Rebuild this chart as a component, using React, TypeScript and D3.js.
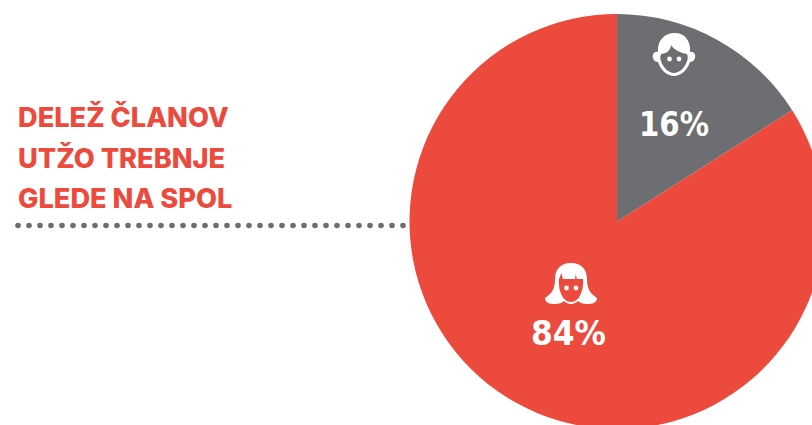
import * as d3 from 'd3';

const genders = ['Moški', 'Ženske'];
const shares = [16, 84];
const sliceColors = ['#6d6e71', '#ec4a3c'];
const titleLines = ['DELEŽ ČLANOV', 'UTŽO TREBNJE', 'GLEDE NA SPOL'];

const WIDTH = 812;
const HEIGHT = 425;
const CX = 617;
const CY = 221.5;
const RADIUS = 207.5;
const RED = '#ec4a3c';
const GREY = '#6d6e71';

const pie = d3.pie<number>().value((d) => d).sort(null);
const arc = d3.arc<d3.PieArcDatum<number>>().innerRadius(0).outerRadius(RADIUS);
const dotX = d3.range(18, 406, 11);

// Drawn around (0,0), face cut-outs use the slice colour
function BoyIcon({ x, y }: { x: number; y: number }) {
  return (
    <g transform={`translate(${x},${y})`}>
      <path
        d="M-16,-2 C-17,-14 -9,-21 1,-21 C11,-21 17,-13 16,-2 C20,-3 22,1 21,4 C20,7 18,8 16,8 C13,17 6,22 0,22 C-6,22 -13,17 -16,8 C-18,8 -20,7 -21,4 C-22,1 -20,-3 -16,-2 Z"
        fill="#fff"
      />
      <path
        d="M-13,0 C-8,0 -3,-4 -3,-9 C0,-4 7,-1 13,0 C14,3 14,5 13,7 C11,14 5,19 0,19 C-5,19 -11,14 -13,7 C-14,5 -14,3 -13,0 Z"
        fill={GREY}
      />
      <circle cx={-4.5} cy={5} r={2.4} fill="#fff" />
      <circle cx={5} cy={5} r={2.4} fill="#fff" />
    </g>
  );
}

function GirlIcon({ x, y }: { x: number; y: number }) {
  return (
    <g transform={`translate(${x},${y})`}>
      <path
        d="M0,-21 C11,-21 16,-14 16,-5 C16,3 18,9 26,14 C26,19 21,20 16,20 C12,20 9,19 7,17 C3,21 -3,21 -7,17 C-9,19 -12,20 -16,20 C-21,20 -26,19 -26,14 C-18,9 -16,3 -16,-5 C-16,-14 -11,-21 0,-21 Z"
        fill="#fff"
      />
      <path
        d="M-12,-5 L-9.5,-11 L-8.2,-5 L4,-5 L4.8,-10 L5.8,-5 L12,-5 C13,7 8,18 0,18 C-8,18 -13,7 -12,-5 Z"
        fill={RED}
      />
      <circle cx={-4.5} cy={4} r={2.4} fill="#fff" />
      <circle cx={5} cy={4} r={2.4} fill="#fff" />
    </g>
  );
}

export default function App() {
  const slices = pie(shares);
  return (
    <svg
      width={WIDTH}
      height={HEIGHT}
      style={{ position: 'absolute', left: 0, top: 0, display: 'block', background: '#fff' }}
    >
      <g transform={`translate(${CX},${CY})`}>
        {slices.map((s, i) => (
          <path key={genders[i]} d={arc(s) ?? ''} fill={sliceColors[i]} />
        ))}
      </g>

      {titleLines.map((line, i) => (
        <text
          key={line}
          x={18}
          y={127 + i * 40.5}
          fontFamily="Inter, sans-serif"
          fontWeight={800}
          fontSize={27.2}
          fill={RED}
        >
          {line}
        </text>
      ))}

      {dotX.map((x) => (
        <circle key={x} cx={x} cy={225.5} r={2.8} fill={GREY} />
      ))}

      <BoyIcon x={674} y={54} />
      <GirlIcon x={571} y={284} />

      <text x={639} y={136} fontFamily="'DejaVu Sans', sans-serif" fontWeight={700} fontSize={34} textLength={70} lengthAdjust="spacingAndGlyphs" fill="#fff">
        {`${shares[0]}%`}
      </text>
      <text x={531} y={345} fontFamily="'DejaVu Sans', sans-serif" fontWeight={700} fontSize={34} textLength={75} lengthAdjust="spacingAndGlyphs" fill="#fff">
        {`${shares[1]}%`}
      </text>
    </svg>
  );
}
